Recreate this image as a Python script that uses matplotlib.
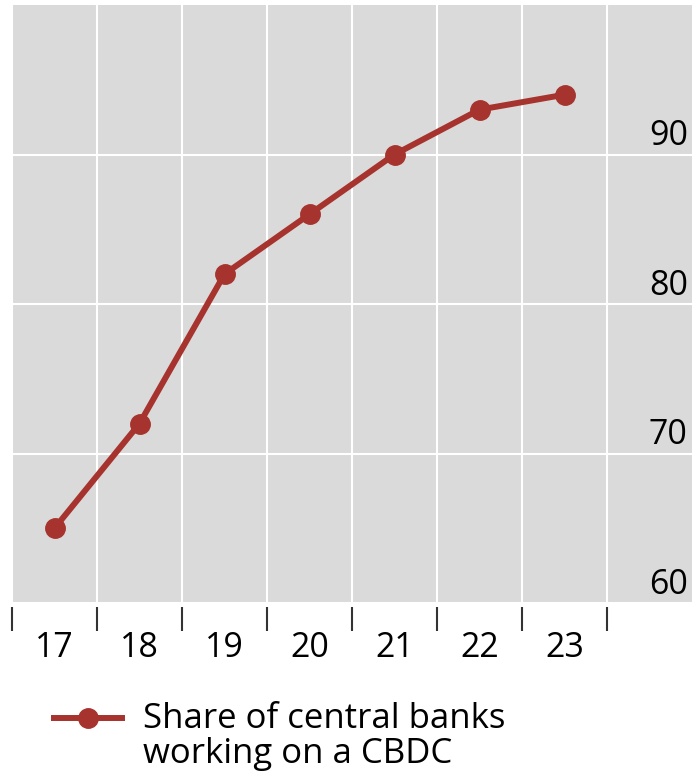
import matplotlib.pyplot as plt
from matplotlib.legend_handler import HandlerLine2D
import numpy as np

# share of central banks working on a CBDC, by year (20xx)
years = ["17", "18", "19", "20", "21", "22", "23"]
share = [65, 72, 82, 86, 90, 93, 94]
y_ticks = [60, 70, 80, 90]

RED = "#A6332D"
GREY = "#DADADA"

plt.rcParams['font.family'] = ['Open Sans', 'DejaVu Sans']


class RaisedLine(HandlerLine2D):
    # legend centres the handle on the 2-line label, the original sits higher
    def __init__(self, shift, **kw):
        super().__init__(**kw)
        self.shift = shift

    def create_artists(self, legend, orig_handle, xdescent, ydescent,
                       width, height, fontsize, trans):
        return super().create_artists(legend, orig_handle, xdescent,
                                      ydescent - 2 * self.shift, width,
                                      height, fontsize, trans)


fig = plt.figure(figsize=(6.92, 7.76), dpi=100)
ax = fig.add_axes([12 / 692, 173 / 776, 680 / 692, 598 / 776])
ax.set_facecolor(GREY)

x = np.arange(len(years))
line, = ax.plot(x, share, color=RED, lw=4.3, marker="o", ms=14,
                label="Share of central banks\nworking on a CBDC", zorder=3)

ax.set_xlim(-0.5, len(years) + 0.5)
ax.set_ylim(60, 100)

# boundaries between years get the ticks, labels sit in the middle
ax.set_xticks(np.arange(len(years) + 1) - 0.5)
ax.set_xticklabels([])
ax.set_xticks(x, minor=True)
ax.set_xticklabels(years, minor=True)
ax.tick_params(axis="x", which="major", direction="out", length=17, width=1.5,
               color="#333333")
ax.tick_params(axis="x", which="minor", length=0, pad=17, labelsize=24.5)
ax.spines["bottom"].set_position(("outward", 3))

ax.set_yticks(y_ticks)
ax.set_yticklabels([])
ax.tick_params(axis="y", length=0)
for v in y_ticks:
    ax.annotate(str(v), xy=(1, v), xycoords=("axes fraction", "data"),
                xytext=(-3, 6.5), textcoords="offset points",
                ha="right", va="baseline", fontsize=24.5)

ax.grid(True, which="major", color="white", lw=1.5)
ax.set_axisbelow(True)
for s in ax.spines.values():
    s.set_visible(False)

leg = ax.legend(loc="upper left", bbox_to_anchor=(54 / 692, 74 / 776),
                bbox_transform=fig.transFigure, frameon=False, fontsize=25,
                handlelength=1.95, handletextpad=0.6, borderaxespad=0,
                borderpad=0, handler_map={line: RaisedLine(shift=14)})
leg.get_texts()[0].set_linespacing(1.05)

fig.savefig("out.png", dpi=100)
